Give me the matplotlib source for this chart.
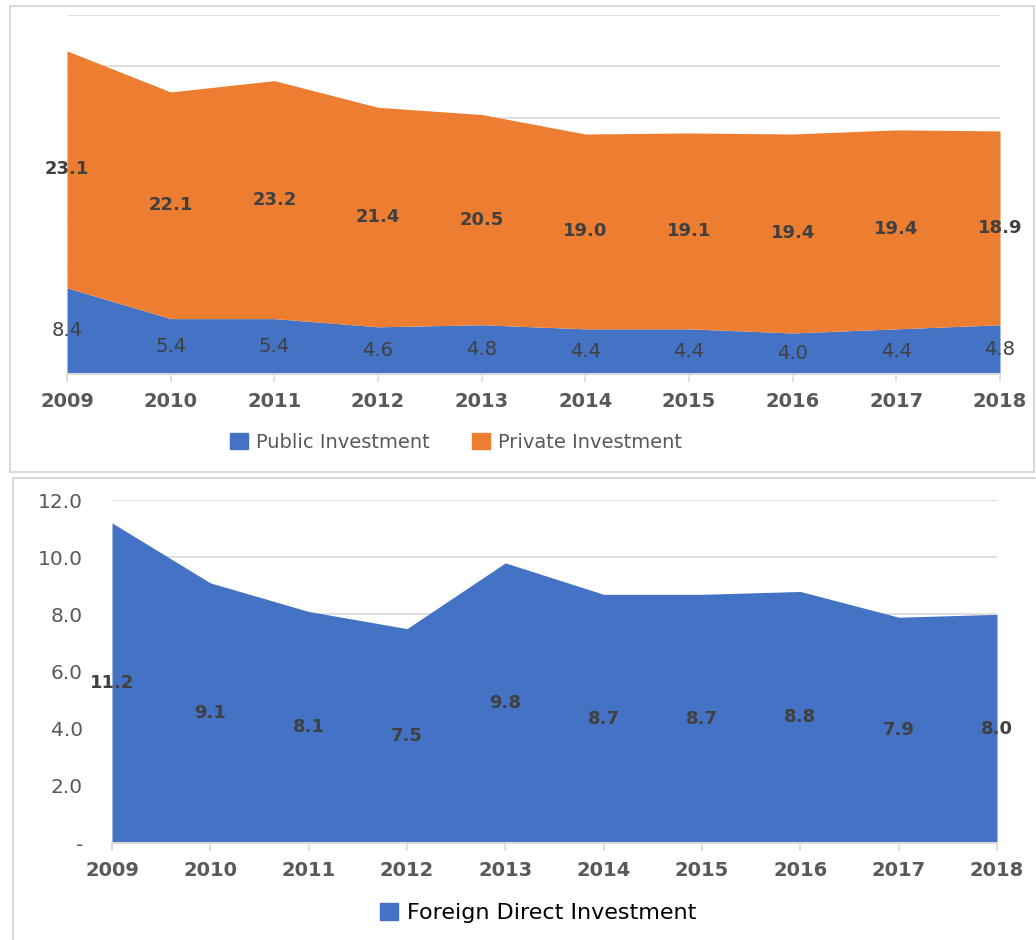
import matplotlib.pyplot as plt
import numpy as np
from matplotlib.patches import Patch, Rectangle

years = ['2009', '2010', '2011', '2012', '2013', '2014', '2015', '2016', '2017', '2018']
public_inv = [8.4, 5.4, 5.4, 4.6, 4.8, 4.4, 4.4, 4.0, 4.4, 4.8]
private_inv = [23.1, 22.1, 23.2, 21.4, 20.5, 19.0, 19.1, 19.4, 19.4, 18.9]
fdi = [11.2, 9.1, 8.1, 7.5, 9.8, 8.7, 8.7, 8.8, 7.9, 8.0]

BLUE = '#4472C4'
ORANGE = '#ED7D31'
GRID = '#d9d9d9'
TICK = '#595959'
LABEL = '#404040'

W, H = 1036, 940


def px_box(left, top, right, bottom):
    # figure-pixel box -> fig fraction rect
    return [left / W, 1 - bottom / H, (right - left) / W, (bottom - top) / H]


def style_axis(ax):
    for s in ['top', 'right', 'left']:
        ax.spines[s].set_visible(False)
    ax.spines['bottom'].set_color(GRID)
    ax.spines['bottom'].set_linewidth(1.5)
    ax.grid(axis='y', color=GRID, linewidth=1.2)
    ax.set_axisbelow(True)
    ax.tick_params(axis='x', length=6, width=1.2, color=GRID, pad=7,
                   labelsize=14, labelcolor=TICK)
    for lab in ax.get_xticklabels():
        lab.set_fontweight('bold')


fig = plt.figure(figsize=(W / 100, H / 100), dpi=100)

# panel borders
fig.patches.append(Rectangle((10 / W, 1 - 472 / H), 1024 / W, 466 / H,
                             transform=fig.transFigure, fill=False,
                             edgecolor=GRID, linewidth=1.5))
fig.patches.append(Rectangle((13 / W, 1 - 960 / H), 1040 / W, 482 / H,
                             transform=fig.transFigure, fill=False,
                             edgecolor=GRID, linewidth=1.5))

x = np.arange(len(years))

# --- top: public + private investment, stacked area
ax1 = fig.add_axes(px_box(67, 15, 1000, 374))
pub = np.array(public_inv)
priv = np.array(private_inv)
ax1.fill_between(x, 0, pub, color=BLUE, linewidth=0, zorder=2)
ax1.fill_between(x, pub, pub + priv, color=ORANGE, linewidth=0, zorder=2)
ax1.set_xlim(x[0], x[-1])
ax1.set_ylim(0, 35)
ax1.set_yticks(np.arange(0, 36, 5))
ax1.tick_params(axis='y', length=0, labelleft=False)
ax1.set_xticks(x)
ax1.set_xticklabels(years)
style_axis(ax1)

for i in range(len(years)):
    ax1.text(x[i], pub[i] / 2, f'{pub[i]:.1f}', ha='center', va='center',
             fontsize=14, color=LABEL, zorder=3)
    ax1.text(x[i], pub[i] + priv[i] / 2, f'{priv[i]:.1f}', ha='center', va='center',
             fontsize=13, fontweight='bold', color=LABEL, zorder=3)

fig.legend(handles=[Patch(color=BLUE, label='Public Investment'),
                    Patch(color=ORANGE, label='Private Investment')],
           loc='center', bbox_to_anchor=(456 / W, 1 - 442 / H), ncol=2,
           frameon=False, fontsize=14, labelcolor=TICK, handlelength=0.9,
           handleheight=0.9, handletextpad=0.4, columnspacing=2.2)

# --- bottom: FDI area
ax2 = fig.add_axes(px_box(112, 500, 997, 843))
f = np.array(fdi)
ax2.fill_between(x, 0, f, color=BLUE, linewidth=0, zorder=2)
ax2.set_xlim(x[0], x[-1])
ax2.set_ylim(0, 12)
ax2.set_yticks(np.arange(0, 13, 2))
ax2.set_yticklabels(['-'] + [f'{v:.1f}' for v in np.arange(2, 13, 2)])
ax2.tick_params(axis='y', length=0, pad=21, labelsize=14.5, labelcolor=TICK)
ax2.set_xticks(x)
ax2.set_xticklabels(years)
style_axis(ax2)

for i in range(len(years)):
    ax2.text(x[i], f[i] / 2, f'{f[i]:.1f}', ha='center', va='center',
             fontsize=13, fontweight='bold', color=LABEL, zorder=3)

fig.legend(handles=[Patch(color=BLUE, label='Foreign Direct Investment')],
           loc='center', bbox_to_anchor=(538 / W, 1 - 913 / H),
           frameon=False, fontsize=16, labelcolor='black', handlelength=0.8,
           handleheight=0.8, handletextpad=0.4)

fig.savefig('out.png', dpi=100)
